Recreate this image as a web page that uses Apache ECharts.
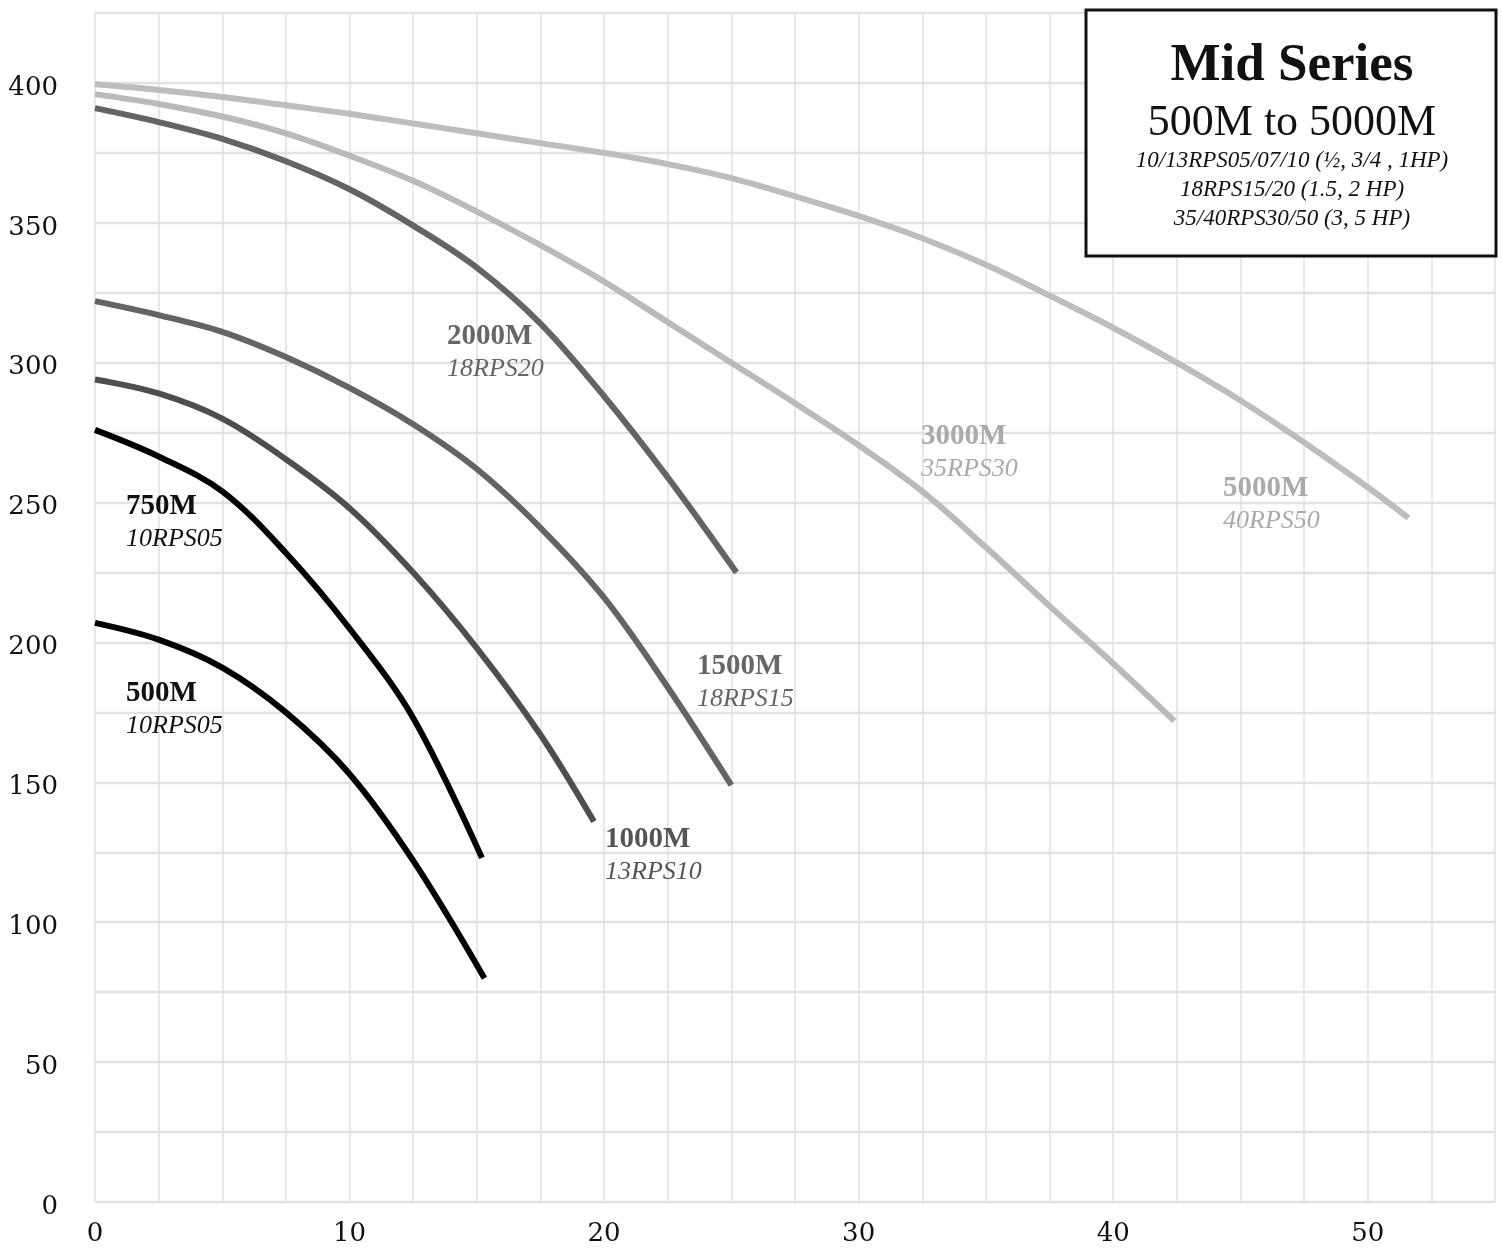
<!DOCTYPE html>
<html>
<head>
<meta charset="utf-8">
<script src="https://cdn.jsdelivr.net/npm/echarts@6/dist/echarts.min.js"></script>
<style>
html,body{margin:0;padding:0;background:#fff;}
#chart{width:1502px;height:1257px;}
</style>
</head>
<body>
<div id="chart"></div>
<script>
// ---- data (flow vs head) ----
const curve500  = [[0,207],[2.5,201],[5,191],[7.5,175],[10,153],[12.5,122],[15.3,80]];
const curve750  = [[0,276],[2.5,266.5],[5,254],[7.5,232],[10,205],[12.5,173],[15.2,123]];
const curve1000 = [[0,294],[2.5,289],[5,280],[7.5,265.5],[10,248],[12.5,225],[15,198],[17.5,167],[19.6,136]];
const curve1500 = [[0,322],[2.5,317],[5,311],[7.5,302],[10,291],[12.5,278],[15,262],[17.5,241],[20,216],[22.5,184],[25,149]];
const curve2000 = [[0,391],[2.5,386],[5,380],[7.5,372],[10,362],[12.5,349],[15,334],[17.5,314],[20,288],[22.5,259],[25.2,225]];
const curve3000 = [[0,396],[2.5,392.5],[5,388],[7.5,382],[10,374],[12.5,365],[15,354],[17.5,342],[20,329],[22.5,314.5],[25,300],[27.5,285.5],[30,270.5],[32.5,254],[35,234],[37.5,213],[40,192.5],[42.4,172]];
const curve5000 = [[0,399.5],[2.5,397.5],[5,395],[7.5,392],[10,389],[12.5,385.5],[15,382],[17.5,378.5],[20,375],[22.5,371],[25,366],[27.5,359.5],[30,352.5],[32.5,344.5],[35,335],[37.5,324],[40,312.5],[42.5,300],[45,286.5],[47.5,271.5],[50,255.5],[51.6,244.5]];

const seriesNames = ['500M','750M','1000M','1500M','2000M','3000M','5000M'];
const seriesModels = ['10RPS05','10RPS05','13RPS10','18RPS15','18RPS20','35RPS30','40RPS50'];
const titleMain = 'Mid Series';
const titleSub = '500M to 5000M';
const titleLines = ['10/13RPS05/07/10 (½, 3/4 , 1HP)','18RPS15/20 (1.5, 2 HP)','35/40RPS30/50 (3, 5 HP)'];

const allData = [curve500, curve750, curve1000, curve1500, curve2000, curve3000, curve5000];
const lineColors = ['#000000','#000000','#4e4e4e','#646464','#646464','#bababa','#bdbdbd'];
const labelColors = ['#111111','#111111','#555555','#666666','#666666','#aaaaaa','#aaaaaa'];
// label anchor (pixel, left / centre of bold line)
const labelPos = [[126,694],[126,507],[605,840],[697,667],[447,337],[921,437],[1223,489]];

const chart = echarts.init(document.getElementById('chart'), null, {renderer:'canvas'});
const axisFont = 'DejaVu Serif';

const graphics = [];
labelPos.forEach((p,i)=>{
  graphics.push({type:'text', x:p[0], y:p[1], z:50,
    style:{text:seriesNames[i], font:'bold 29px "Liberation Serif"', fill:labelColors[i], verticalAlign:'middle'}});
  graphics.push({type:'text', x:p[0], y:p[1]+32, z:50,
    style:{text:seriesModels[i], font:'italic 26px "Liberation Serif"', fill:labelColors[i], verticalAlign:'middle'}});
});
graphics.push({type:'rect', x:1086, y:10, z:60,
  shape:{width:410, height:246}, style:{fill:'#fff', stroke:'#111', lineWidth:3}});
graphics.push({type:'text', z:61, x:1292, y:66,
  style:{text:titleMain, font:'bold 53px "Liberation Serif"', fill:'#111', align:'center', verticalAlign:'middle'}});
graphics.push({type:'text', z:61, x:1292, y:123,
  style:{text:titleSub, font:'44px "Liberation Serif"', fill:'#111', align:'center', verticalAlign:'middle'}});
titleLines.forEach((t,i)=>{
  graphics.push({type:'text', z:61, x:1292, y:161+i*29,
    style:{text:t, font:'italic 23px "Liberation Serif"', fill:'#111', align:'center', verticalAlign:'middle'}});
});

const option = {
  backgroundColor:'#fff',
  animation:false,
  grid:{left:95, right:7, top:13, bottom:55, containLabel:false},
  xAxis:{type:'value', min:0, max:55, interval:2.5,
    axisLine:{show:false}, axisTick:{show:false},
    axisLabel:{margin:19, fontFamily:axisFont, fontSize:26, color:'#111',
      formatter:v=> (Math.abs(v%10)<1e-6 && v<55) ? String(v) : ''},
    splitLine:{show:true, lineStyle:{color:'#e2e2e2', width:1.6}}},
  yAxis:{type:'value', min:0, max:425, interval:25,
    axisLabel:{margin:37, fontFamily:axisFont, fontSize:26, color:'#111',
      formatter:v=> (v%50===0 && v<=400) ? '{a|' + v + '}' : '',
      rich:{a:{fontFamily:axisFont, fontSize:26, color:'#111', padding:[10,0,0,0]}}},
    axisLine:{show:false}, axisTick:{show:false},
    splitLine:{show:true, lineStyle:{color:'#e2e2e2', width:2.4}}},
  series: allData.map((d,i)=>({
    type:'line', name:seriesNames[i], data:d, smooth:0.35,
    showSymbol:false, symbol:'none', z:10-i,
    lineStyle:{color:lineColors[i], width:6, cap:'butt'}
  })),
  graphic: graphics
};
chart.setOption(option);
</script>
</body>
</html>
